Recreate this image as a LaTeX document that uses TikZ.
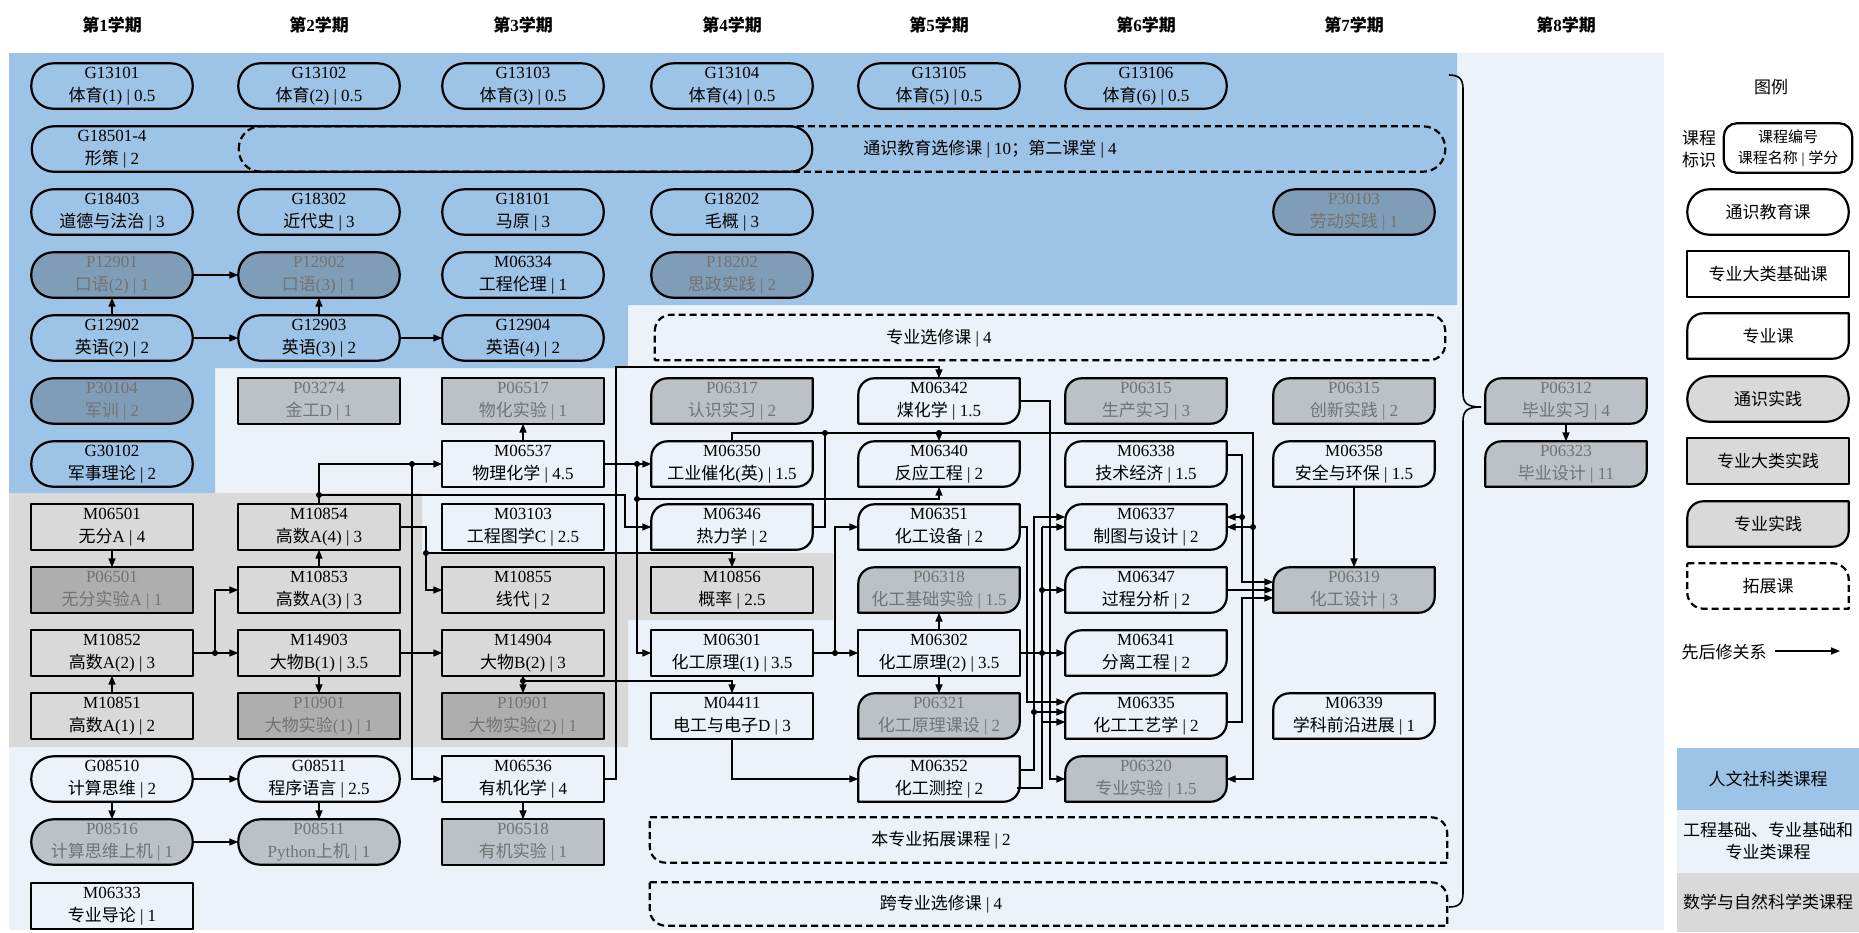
\documentclass[tikz,border=0pt]{standalone}
\usepackage{fontspec}
\setmainfont{Liberation Serif}
\newfontfamily\latinf{Liberation Serif}
\newfontfamily\cjkf{Noto Sans CJK SC}
\usetikzlibrary{arrows.meta,calc}
\XeTeXinterchartokenstate=1
\newXeTeXintercharclass\CJKcls
\newcount\cjkcnt
\cjkcnt="4E00
\loop
  \XeTeXcharclass\cjkcnt=\CJKcls
  \ifnum\cjkcnt<"9FFF \advance\cjkcnt by 1
\repeat
\XeTeXcharclass"3001=\CJKcls
\XeTeXcharclass"FF1B=\CJKcls
\XeTeXinterchartoks 0 \CJKcls = {\cjkf}
\XeTeXinterchartoks 4095 \CJKcls = {\cjkf}
\XeTeXinterchartoks \CJKcls 0 = {\latinf}
\XeTeXinterchartoks \CJKcls 4095 = {\latinf}
\definecolor{bgblue}{RGB}{157,195,230}
\definecolor{bglight}{RGB}{235,242,250}
\definecolor{bggray}{RGB}{217,217,217}
\pgfdeclarelayer{bg}
\pgfdeclarelayer{shp}
\pgfsetlayers{bg,shp,main}
\newcommand\shG[2]{\begin{pgfonlayer}{shp}\draw[bd,#2,rounded corners=22pt] (#1.south west) rectangle (#1.north east);\end{pgfonlayer}}
\newcommand\shR[2]{\begin{pgfonlayer}{shp}\draw[bd,#2] (#1.south west) rectangle (#1.north east);\end{pgfonlayer}}
\newcommand\shM[2]{\begin{pgfonlayer}{shp}\draw[bd,#2] ($(#1.north west)+(0,-16pt)$) arc[start angle=180,end angle=90,radius=16pt] -- (#1.north east) -- ($(#1.south east)+(0,16pt)$) arc[start angle=0,end angle=-90,radius=16pt] -- (#1.south west) -- cycle;\end{pgfonlayer}}
\newcommand\shX[2]{\begin{pgfonlayer}{shp}\draw[dbd,#2] (#1.north west) -- ($(#1.north east)+(-16pt,0)$) arc[start angle=90,end angle=0,radius=16pt] -- (#1.south east) -- ($(#1.south west)+(16pt,0)$) arc[start angle=270,end angle=180,radius=16pt] -- cycle;\end{pgfonlayer}}
\newcommand\course[7]{\node[txt,#2text] (#3) at (#4,#5) {#6\\#7};\csname sh#1\endcsname{#3}{#2shape}}
\newcommand\lcourse[6]{\node[txt,#2text] (#3) at (#4,#5) {#6};\csname sh#1\endcsname{#3}{#2shape}}
\begin{document}
\begin{tikzpicture}[x=1pt,y=1pt,
  txt/.style={minimum width=161pt,minimum height=45pt,inner sep=0pt,align=center,font=\fontsize{17}{23}\selectfont},
  bd/.style={line width=2.2pt,line join=round},
  dbd/.style={bd,dash pattern=on 7pt off 4pt},
  ntext/.style={text=black}, nshape/.style={},
  ptext/.style={text=black!55}, pshape/.style={fill=black!85,fill opacity=0.24},
  ltext/.style={text=black}, lshape/.style={fill=black!15},
  arr/.style={line width=1.5pt,-{Triangle[length=9pt,width=7pt]}},
  ln/.style={line width=1.5pt},
  dotc/.style={fill=black},
  hdr/.style={font=\fontsize{17}{20}\selectfont\bfseries},
  lab/.style={font=\fontsize{17}{22}\selectfont,align=center},
]
\useasboundingbox (0,0) rectangle (1859,-932);
\begin{pgfonlayer}{bg}
\fill[white] (0,0) rectangle (1859,-932);
\fill[bglight] (9,-53) rectangle (1664,-930);
\fill[bgblue] (9,-53) -- (1457,-53) -- (1457,-305) -- (628,-305) -- (628,-368) -- (215,-368) -- (215,-493) -- (9,-493) -- cycle;
\fill[bggray] (9,-493) -- (422,-493) -- (422,-553) -- (833,-553) -- (833,-620) -- (628,-620) -- (628,-747) -- (9,-747) -- cycle;
\fill[bgblue] (1677,-748) rectangle (1859,-810);
\fill[bglight] (1677,-810) rectangle (1859,-873);
\fill[bggray] (1677,-873) rectangle (1859,-932);
\end{pgfonlayer}
% headers
\node[hdr] (h1) at (112,-25) {第1学期};
\node[hdr] (h2) at (319,-25) {第2学期};
\node[hdr] (h3) at (523,-25) {第3学期};
\node[hdr] (h4) at (732,-25) {第4学期};
\node[hdr] (h5) at (939,-25) {第5学期};
\node[hdr] (h6) at (1146,-25) {第6学期};
\node[hdr] (h7) at (1354,-25) {第7学期};
\node[hdr] (h8) at (1566,-25) {第8学期};
% wide boxes
\node[txt,minimum width=1206pt] (TSXX) at (842,-149) {};
\begin{pgfonlayer}{shp}\draw[dbd,rounded corners=22pt] (TSXX.south west) rectangle (TSXX.north east);\end{pgfonlayer}
\node[txt] (TSXXt) at (990,-149) {通识教育选修课 | 10；第二课堂 | 4};
\node[txt,minimum width=780pt] (G18501) at (422,-149) {};
\shG{G18501}{nshape}
\node[txt] (G18501t) at (112,-149) {G18501-4\\形策 | 2};
\node[txt,minimum width=790pt] (ZYXX) at (1050,-337.5) {};
\begin{pgfonlayer}{shp}\draw[dbd] ($(ZYXX.north west)+(0,-16pt)$) arc[start angle=180,end angle=90,radius=16pt] -- ($(ZYXX.north east)+(-16pt,0)$) arc[start angle=90,end angle=0,radius=16pt] -- ($(ZYXX.south east)+(0,16pt)$) arc[start angle=0,end angle=-90,radius=16pt] -- (ZYXX.south west) -- cycle;\end{pgfonlayer}
\node[txt] (ZYXXt) at (939,-338) {专业选修课 | 4};
\node[txt,minimum width=797pt] (BZTZ) at (1048.5,-840) {};
\shX{BZTZ}{nshape}
\node[txt] (BZTZt) at (941,-840) {本专业拓展课程 | 2};
\node[txt,minimum width=797pt,minimum height=43pt] (KZY) at (1048.5,-904) {};
\shX{KZY}{nshape}
\node[txt] (KZYt) at (941,-904) {跨专业选修课 | 4};
% column 1
\course{G}{n}{G13101}{112}{-86}{G13101}{体育(1) | 0.5}
\course{G}{n}{G18403}{112}{-212}{G18403}{道德与法治 | 3}
\course{G}{p}{P12901}{112}{-275}{P12901}{口语(2) | 1}
\course{G}{n}{G12902}{112}{-338}{G12902}{英语(2) | 2}
\course{G}{p}{P30104}{112}{-401}{P30104}{军训 | 2}
\course{G}{n}{G30102}{112}{-464}{G30102}{军事理论 | 2}
\course{R}{n}{M06501}{112}{-527}{M06501}{无分A | 4}
\course{R}{p}{P06501}{112}{-590}{P06501}{无分实验A | 1}
\course{R}{n}{M10852}{112}{-653}{M10852}{高数A(2) | 3}
\course{R}{n}{M10851}{112}{-716}{M10851}{高数A(1) | 2}
\course{G}{n}{G08510}{112}{-779}{G08510}{计算思维 | 2}
\course{G}{p}{P08516}{112}{-842}{P08516}{计算思维上机 | 1}
\course{R}{n}{M06333}{112}{-906}{M06333}{专业导论 | 1}
% column 2
\course{G}{n}{G13102}{319}{-86}{G13102}{体育(2) | 0.5}
\course{G}{n}{G18302}{319}{-212}{G18302}{近代史 | 3}
\course{G}{p}{P12902}{319}{-275}{P12902}{口语(3) | 1}
\course{G}{n}{G12903}{319}{-338}{G12903}{英语(3) | 2}
\course{R}{p}{P03274}{319}{-401}{P03274}{金工D | 1}
\course{R}{n}{M10854}{319}{-527}{M10854}{高数A(4) | 3}
\course{R}{n}{M10853}{319}{-590}{M10853}{高数A(3) | 3}
\course{R}{n}{M14903}{319}{-653}{M14903}{大物B(1) | 3.5}
\course{R}{p}{P10901a}{319}{-716}{P10901}{大物实验(1) | 1}
\course{G}{n}{G08511}{319}{-779}{G08511}{程序语言 | 2.5}
\course{G}{p}{P08511}{319}{-842}{P08511}{Python上机 | 1}
% column 3
\course{G}{n}{G13103}{523}{-86}{G13103}{体育(3) | 0.5}
\course{G}{n}{G18101}{523}{-212}{G18101}{马原 | 3}
\course{G}{n}{M06334}{523}{-275}{M06334}{工程伦理 | 1}
\course{G}{n}{G12904}{523}{-338}{G12904}{英语(4) | 2}
\course{R}{p}{P06517}{523}{-401}{P06517}{物化实验 | 1}
\course{R}{n}{M06537}{523}{-464}{M06537}{物理化学 | 4.5}
\course{R}{n}{M03103}{523}{-527}{M03103}{工程图学C | 2.5}
\course{R}{n}{M10855}{523}{-590}{M10855}{线代 | 2}
\course{R}{n}{M14904}{523}{-653}{M14904}{大物B(2) | 3}
\course{R}{p}{P10901b}{523}{-716}{P10901}{大物实验(2) | 1}
\course{R}{n}{M06536}{523}{-779}{M06536}{有机化学 | 4}
\course{R}{p}{P06518}{523}{-842}{P06518}{有机实验 | 1}
% column 4
\course{G}{n}{G13104}{732}{-86}{G13104}{体育(4) | 0.5}
\course{G}{n}{G18202}{732}{-212}{G18202}{毛概 | 3}
\course{G}{p}{P18202}{732}{-275}{P18202}{思政实践 | 2}
\course{M}{p}{P06317}{732}{-401}{P06317}{认识实习 | 2}
\course{M}{n}{M06350}{732}{-464}{M06350}{工业催化(英) | 1.5}
\course{M}{n}{M06346}{732}{-527}{M06346}{热力学 | 2}
\course{R}{n}{M10856}{732}{-590}{M10856}{概率 | 2.5}
\course{R}{n}{M06301}{732}{-653}{M06301}{化工原理(1) | 3.5}
\course{R}{n}{M04411}{732}{-716}{M04411}{电工与电子D | 3}
% column 5
\course{G}{n}{G13105}{939}{-86}{G13105}{体育(5) | 0.5}
\course{M}{n}{M06342}{939}{-401}{M06342}{煤化学 | 1.5}
\course{M}{n}{M06340}{939}{-464}{M06340}{反应工程 | 2}
\course{M}{n}{M06351}{939}{-527}{M06351}{化工设备 | 2}
\course{M}{p}{P06318}{939}{-590}{P06318}{化工基础实验 | 1.5}
\course{R}{n}{M06302}{939}{-653}{M06302}{化工原理(2) | 3.5}
\course{M}{p}{P06321}{939}{-716}{P06321}{化工原理课设 | 2}
\course{M}{n}{M06352}{939}{-779}{M06352}{化工测控 | 2}
% column 6
\course{G}{n}{G13106}{1146}{-86}{G13106}{体育(6) | 0.5}
\course{M}{p}{P06315a}{1146}{-401}{P06315}{生产实习 | 3}
\course{M}{n}{M06338}{1146}{-464}{M06338}{技术经济 | 1.5}
\course{M}{n}{M06337}{1146}{-527}{M06337}{制图与设计 | 2}
\course{M}{n}{M06347}{1146}{-590}{M06347}{过程分析 | 2}
\course{M}{n}{M06341}{1146}{-653}{M06341}{分离工程 | 2}
\course{M}{n}{M06335}{1146}{-716}{M06335}{化工工艺学 | 2}
\course{M}{p}{P06320}{1146}{-779}{P06320}{专业实验 | 1.5}
% column 7
\course{G}{p}{P30103}{1354}{-212}{P30103}{劳动实践 | 1}
\course{M}{p}{P06315b}{1354}{-401}{P06315}{创新实践 | 2}
\course{M}{n}{M06358}{1354}{-464}{M06358}{安全与环保 | 1.5}
\course{M}{p}{P06319}{1354}{-590}{P06319}{化工设计 | 3}
\course{M}{n}{M06339}{1354}{-716}{M06339}{学科前沿进展 | 1}
% column 8
\course{M}{p}{P06312}{1566}{-401}{P06312}{毕业实习 | 4}
\course{M}{p}{P06323}{1566}{-464}{P06323}{毕业设计 | 11}
% brace
\draw[line width=1.6pt] (1449,-75) .. controls (1459,-75) and (1463,-79) .. (1463,-89) -- (1463,-393) .. controls (1463,-403) and (1467,-407) .. (1481,-407) .. controls (1467,-407) and (1463,-411) .. (1463,-421) -- (1463,-893) .. controls (1463,-903) and (1459,-907) .. (1449,-907);
% connectors
\draw[arr] (P12901.east) -- (P12902.west);
\draw[arr] (G12902.north) -- (P12901.south);
\draw[arr] (G12903.north) -- (P12902.south);
\draw[arr] (G12902.east) -- (G12903.west);
\draw[arr] (G12903.east) -- (G12904.west);
\draw[arr] (M06501.south) -- (P06501.north);
\draw[arr] (M10851.north) -- (M10852.south);
\draw[arr] (M10852.east) -- (M14903.west);
\draw[arr] (215,-653) |- (M10853.west);
\draw[arr] (M10853.north) -- (M10854.south);
\draw[arr] (M14903.south) -- (P10901a.north);
\draw[arr] (M14903.east) -- (M14904.west);
\draw[arr] (M14904.south) -- (P10901b.north);
\draw[arr] (523,-681) -| (M04411.north);
\draw[arr] (G08510.east) -- (G08511.west);
\draw[arr] (G08510.south) -- (P08516.north);
\draw[arr] (G08511.south) -- (P08511.north);
\draw[arr] (P08516.east) -- (P08511.west);
\draw[arr] (M06536.south) -- (P06518.north);
\draw[arr] (M06537.north) -- (P06517.south);
\draw[arr] (M10854.north) |- (M06537.west);
\draw[arr] (412,-464) |- (M06536.west);
\draw[arr] (319,-495) -- (625,-495) |- (M06346.west);
\draw[arr] (M10854.east) -- (426,-527) |- (M10855.west);
\draw[arr] (426,-553) -| (M10856.north);
\draw[arr] (M06536.east) -| (616,-367) -| (M06342.north);
\draw[arr] (M06537.east) -- (M06350.west);
\draw[arr] (637,-464) |- (M06301.west);
\draw[arr] (637,-499) -| (M06340.south);
\draw[arr] (M06350.north) |- (1253,-433) |- (P06320.east);
\draw[ln] (M06346.east) -| (825,-433);
\draw[arr] (939,-433) -- (M06340.north);
\draw[arr] (1253,-527) -- (M06337.east);
\draw[arr] (M06301.east) -- (M06302.west);
\draw[arr] (835,-653) |- (M06351.west);
\draw[arr] (M06302.north) -- (P06318.south);
\draw[arr] (M06302.south) -- (P06321.north);
\draw[arr] (M04411.south) |- (M06352.west);
\draw[arr] (M06302.east) -- (M06341.west);
\draw[ln] ($(M06352.east)+(-3,-9)$) -| (1042,-527);
\draw[arr] (1042,-527) -- (M06337.west);
\draw[arr] (1042,-590) -- (M06347.west);
\draw[arr] (1042,-722) -- ($(M06335.west)+(0,-6)$);
\draw[arr] ($(M06352.east)+(0,9)$) -| (1034,-517) -- ($(M06337.west)+(0,10)$);
\draw[arr] (1034,-712) -- ($(M06335.west)+(0,4)$);
\draw[arr] (M06351.east) -| (1027,-702) -- ($(M06335.west)+(0,14)$);
\draw[arr] (M06342.east) -| (1050,-779) -- (P06320.west);
\draw[arr] ($(M06338.east)+(0,9)$) -| (1242,-582) -- ($(P06319.west)+(0,8)$);
\draw[arr] (1242,-517) -- ($(M06337.east)+(0,10)$);
\draw[arr] (M06347.east) -- (P06319.west);
\draw[arr] ($(M06335.east)+(0,-6)$) -| (1242,-598) -- ($(P06319.west)+(0,-8)$);
\draw[arr] (M06358.south) -- (P06319.north);
\draw[arr] (P06312.south) -- (P06323.north);
% junction dots
\foreach \p in {(215,-653),(523,-681),(412,-464),(319,-495),(426,-553),(637,-464),(637,-499),(825,-433),(939,-433),(1253,-527),(835,-653),(1042,-653),(1042,-590),(1034,-712),(1242,-517)}
  \fill[dotc] \p circle (3pt);
% legend
\node[lab] (lgt) at (1771,-87) {图例};
\node[lab] (lgkc) at (1699,-149) {课程\\标识};
\node[txt,minimum width=128pt,minimum height=49pt,font=\fontsize{15}{21}\selectfont] (lgbox) at (1788,-148) {课程编号\\课程名称 | 学分};
\begin{pgfonlayer}{shp}\draw[bd,rounded corners=13pt] (lgbox.south west) rectangle (lgbox.north east);\end{pgfonlayer}
\lcourse{G}{n}{lg1}{1768}{-212}{通识教育课}
\lcourse{R}{n}{lg2}{1768}{-274}{专业大类基础课}
\lcourse{M}{n}{lg3}{1768}{-336}{专业课}
\lcourse{G}{l}{lg4}{1768}{-399}{通识实践}
\lcourse{R}{l}{lg5}{1768}{-461}{专业大类实践}
\lcourse{M}{l}{lg6}{1768}{-524}{专业实践}
\lcourse{X}{n}{lg7}{1768}{-586}{拓展课}
\node[lab] (lgarr) at (1724,-652) {先后修关系};
\coordinate (lga1) at (1775,-651);
\coordinate (lga2) at (1840,-651);
\draw[arr] (lga1) -- (lga2);
\node[lab] (lgc1) at (1768,-779) {人文社科类课程};
\node[lab] (lgc2) at (1768,-841) {工程基础、专业基础和\\专业类课程};
\node[lab] (lgc3) at (1768,-902) {数学与自然科学类课程};
\end{tikzpicture}
\end{document}
